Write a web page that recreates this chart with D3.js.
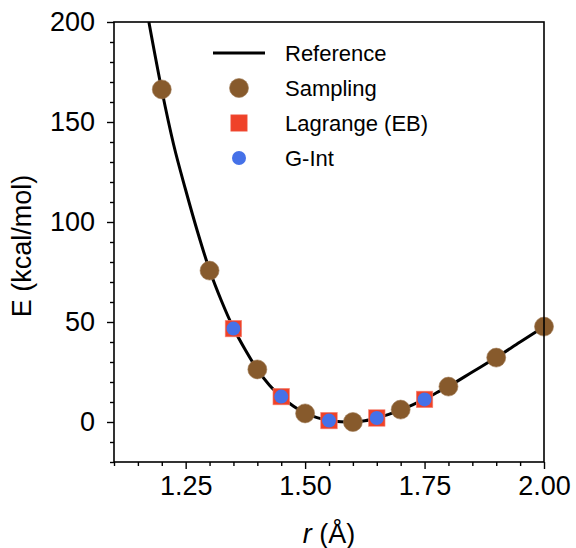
<!DOCTYPE html>
<html>
<head>
<meta charset="utf-8">
<script src="https://cdn.jsdelivr.net/npm/d3@7"></script>
<style>
  html, body { margin: 0; padding: 0; background: #fff; }
  svg { display: block; font-family: "Liberation Sans", Arial, sans-serif; }
</style>
</head>
<body>
<svg id="chart" width="576" height="548"></svg>
<script>
// Reference curve
const refR = [1.173, 1.2, 1.225, 1.25, 1.275, 1.3, 1.325, 1.35, 1.375, 1.4, 1.425, 1.45, 1.475, 1.5, 1.525, 1.55, 1.575, 1.6, 1.625, 1.65, 1.675, 1.7, 1.725, 1.75, 1.775, 1.8, 1.85, 1.9, 1.95, 2.0];
const refE = [200, 166, 138.5, 116, 95, 76, 60.5, 47, 36, 26.3, 18.5, 12.7, 8, 4.4, 2.2, 0.7, 0.1, 0, 0.6, 2, 3.8, 6.1, 8.6, 11.4, 14.6, 17.8, 25, 32.2, 40, 47.7];
// Sampling
const sampR = [1.2, 1.3, 1.4, 1.5, 1.6, 1.7, 1.8, 1.9, 2.0];
const sampE = [166.3, 75.7, 26.3, 4.3, 0, 6.2, 17.7, 32.2, 47.7];
// Lagrange (EB)
const lagR = [1.35, 1.45, 1.55, 1.65, 1.75];
const lagE = [46.7, 12.7, 0.7, 2.0, 11.3];
// G-Int
const gintR = [1.35, 1.45, 1.55, 1.65, 1.75];
const gintE = [46.7, 12.7, 0.7, 2.0, 11.3];
// Ticks
const xTicks = [1.25, 1.50, 1.75, 2.00];
const yTicks = [0, 50, 100, 150, 200];
const legendLabels = ["Reference", "Sampling", "Lagrange (EB)", "G-Int"];

const colBrown = "#875a2c", colRed = "#ef4229", colBlue = "#4571e8";

const svg = d3.select("#chart");
const L = 114, R = 544, T = 22, B = 462;
const x = d3.scaleLinear().domain([1.1, 2.0]).range([L, R]);
const y = d3.scaleLinear().domain([-20, 200]).range([B, T]);

const defs = svg.append("defs");
defs.append("clipPath").attr("id", "clip").append("rect")
  .attr("x", L).attr("y", T).attr("width", R - L).attr("height", B - T);

const plot = svg.append("g").attr("clip-path", "url(#clip)");

// Reference line
const refData = refR.map((r, i) => [r, refE[i]]);
plot.append("path").datum(refData)
  .attr("fill", "none").attr("stroke", "#000").attr("stroke-width", 3)
  .attr("d", d3.line().x(d => x(d[0])).y(d => y(d[1])).curve(d3.curveMonotoneX));

// Sampling
const gAll = svg.append("g");
gAll.selectAll("circle.samp").data(sampR.map((r, i) => [r, sampE[i]])).enter()
  .append("circle").attr("class", "samp")
  .attr("cx", d => x(d[0])).attr("cy", d => y(d[1])).attr("r", 9.5)
  .attr("fill", colBrown).attr("stroke", "#a07a55").attr("stroke-width", 0.6);

// Lagrange squares
const sq = 16.5;
gAll.selectAll("rect.lag").data(lagR.map((r, i) => [r, lagE[i]])).enter()
  .append("rect").attr("class", "lag")
  .attr("x", d => x(d[0]) - sq / 2).attr("y", d => y(d[1]) - sq / 2)
  .attr("width", sq).attr("height", sq)
  .attr("fill", colRed).attr("stroke", "#f58a7a").attr("stroke-width", 0.6);

// G-Int
gAll.selectAll("circle.gint").data(gintR.map((r, i) => [r, gintE[i]])).enter()
  .append("circle").attr("class", "gint")
  .attr("cx", d => x(d[0])).attr("cy", d => y(d[1])).attr("r", 7)
  .attr("fill", colBlue);

// Spines
svg.append("rect").attr("x", L).attr("y", T).attr("width", R - L).attr("height", B - T)
  .attr("fill", "none").attr("stroke", "#000").attr("stroke-width", 1.6);

// Axes
const xAxis = svg.append("g").attr("transform", `translate(0,${B})`)
  .call(d3.axisBottom(x).tickValues(xTicks).tickFormat(d3.format(".2f")).tickSize(7).tickPadding(6));
const xMinor = svg.append("g").attr("transform", `translate(0,${B})`)
  .call(d3.axisBottom(x).tickValues(d3.range(1.1, 2.0001, 0.05).filter(v => !xTicks.some(t => Math.abs(t - v) < 1e-6))).tickFormat("").tickSize(4));
const yAxis = svg.append("g").attr("transform", `translate(${L},0)`)
  .call(d3.axisLeft(y).tickValues(yTicks).tickFormat(d3.format("d")).tickSize(7).tickPadding(12));
const yMinor = svg.append("g").attr("transform", `translate(${L},0)`)
  .call(d3.axisLeft(y).tickValues(d3.range(-20, 200.001, 10).filter(v => !yTicks.includes(Math.round(v)))).tickFormat("").tickSize(4));

[xAxis, xMinor, yAxis, yMinor].forEach(g => {
  g.select(".domain").remove();
  g.selectAll(".tick line").attr("stroke", "#000").attr("stroke-width", 1.4);
  g.selectAll(".tick text").attr("fill", "#000").attr("font-size", 27)
    .attr("font-family", "Liberation Sans, Arial, sans-serif");
});
xAxis.selectAll(".tick text").attr("dy", "0.71em").attr("y", 14);

// Axis labels
const xl = svg.append("text").attr("x", (L + R) / 2).attr("y", 543)
  .attr("text-anchor", "middle").attr("font-size", 27).attr("fill", "#000");
xl.append("tspan").attr("font-style", "italic").text("r");
xl.append("tspan").text(" (Å)");

svg.append("text").attr("transform", `translate(31,${(T + B) / 2 + 4}) rotate(-90)`)
  .attr("text-anchor", "middle").attr("font-size", 27).attr("fill", "#000")
  .text("E (kcal/mol)");

// Legend
const lg = svg.append("g");
const rowY = [53, 88, 123, 158];
const mx = 239;
lg.append("line").attr("x1", 213).attr("x2", 265).attr("y1", rowY[0]).attr("y2", rowY[0])
  .attr("stroke", "#000").attr("stroke-width", 3);
lg.append("circle").attr("cx", mx).attr("cy", rowY[1]).attr("r", 9.5).attr("fill", colBrown)
  .attr("stroke", "#a07a55").attr("stroke-width", 0.6);
lg.append("rect").attr("x", mx - sq / 2).attr("y", rowY[2] - sq / 2).attr("width", sq).attr("height", sq)
  .attr("fill", colRed).attr("stroke", "#f58a7a").attr("stroke-width", 0.6);
lg.append("circle").attr("cx", mx).attr("cy", rowY[3]).attr("r", 7).attr("fill", colBlue);
legendLabels.forEach((t, i) => {
  lg.append("text").attr("x", 285).attr("y", rowY[i]).attr("dy", "0.36em")
    .attr("font-size", 22).attr("fill", "#000").text(t);
});
</script>
</body>
</html>
